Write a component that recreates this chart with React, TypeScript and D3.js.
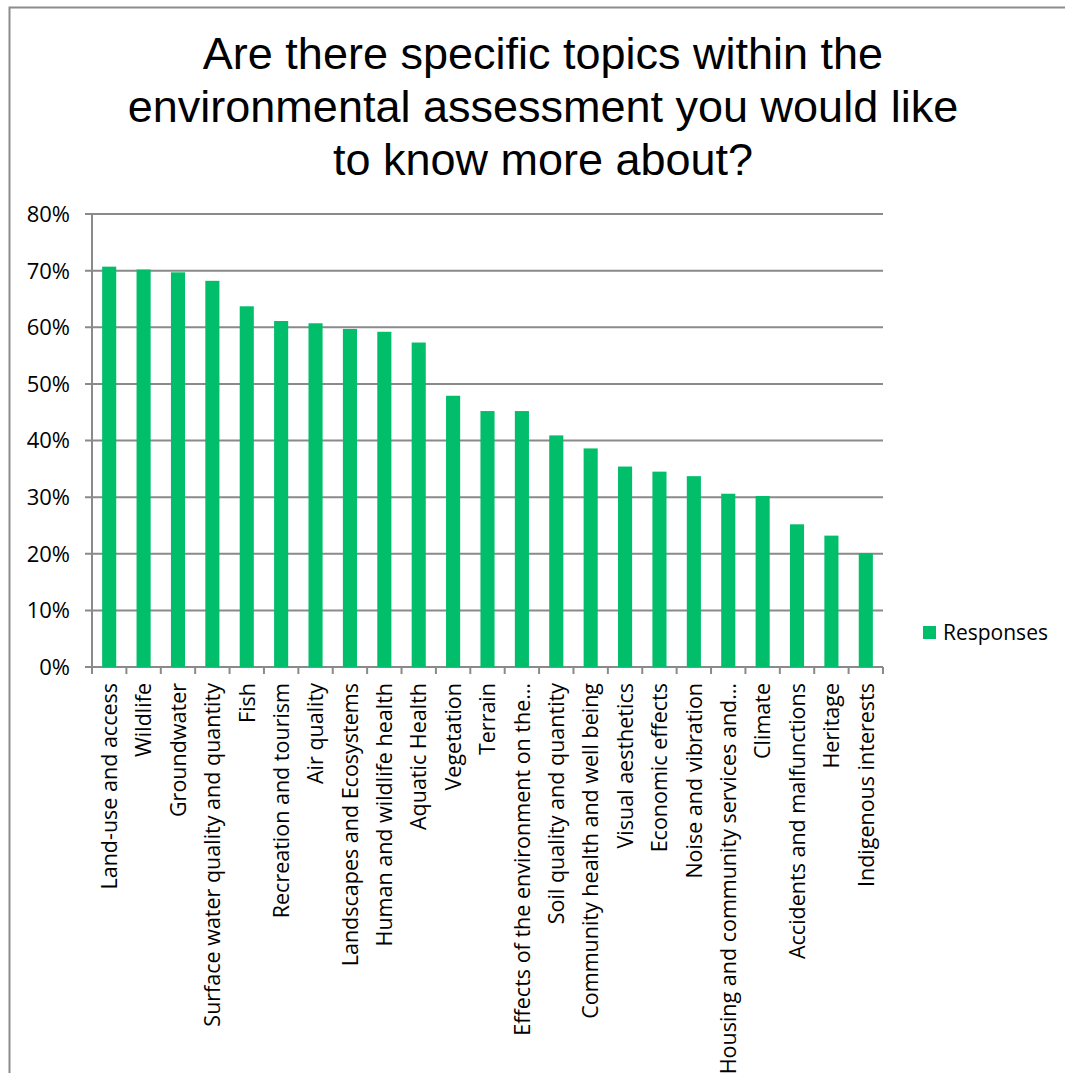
import React from "react";
import * as d3 from "d3";

const categories = [
  "Land-use and access",
  "Wildlife",
  "Groundwater",
  "Surface water quality and quantity",
  "Fish",
  "Recreation and tourism",
  "Air quality",
  "Landscapes and Ecosystems",
  "Human and wildlife health",
  "Aquatic Health",
  "Vegetation",
  "Terrain",
  "Effects of the environment on the…",
  "Soil quality and quantity",
  "Community health and well being",
  "Visual aesthetics",
  "Economic effects",
  "Noise and vibration",
  "Housing and community services and…",
  "Climate",
  "Accidents and malfunctions",
  "Heritage",
  "Indigenous interests",
];

const responses = [
  0.707, 0.702, 0.697, 0.682, 0.637, 0.611, 0.607, 0.597, 0.592, 0.573,
  0.479, 0.452, 0.452, 0.409, 0.386, 0.354, 0.345, 0.337, 0.306, 0.302,
  0.252, 0.232, 0.201,
];

const yTicks = [0, 0.1, 0.2, 0.3, 0.4, 0.5, 0.6, 0.7, 0.8];

const titleLines = [
  "Are there specific topics within the",
  "environmental assessment you would like",
  "to know more about?",
];

const seriesName = "Responses";

const W = 1065;
const H = 1073;
const left = 92;
const right = 883;
const top = 214;
const bottom = 667;

const GREEN = "#00BE6A";
const GRID = "#8a8a8a";
const LABEL_FONT = "'Open Sans', 'Noto Sans', sans-serif";

export default function App() {
  const x = d3
    .scaleBand<string>()
    .domain(categories)
    .range([left, right])
    .paddingInner(0.59)
    .paddingOuter(0.295);
  const y = d3.scaleLinear().domain([0, 0.8]).range([bottom, top]);
  const step = x.step();
  const fmt = d3.format(".0%");

  return (
    <div style={{ position: "absolute", left: 0, top: 0 }}>
      <svg width={W} height={H} style={{ display: "block", background: "#fff" }}>
        <rect x={9.5} y={7.5} width={W + 20} height={H + 20} fill="#fff" stroke="#8c8c8c" strokeWidth={2} />
        {titleLines.map((t, i) => (
          <text
            key={i}
            x={543}
            y={69 + i * 53}
            textAnchor="middle"
            fontFamily="'Liberation Sans', Arial, sans-serif"
            fontSize={45}
            fill="#000"
          >
            {t}
          </text>
        ))}
        {yTicks.map((t) => (
          <g key={t}>
            <line x1={left - 7} x2={right} y1={y(t)} y2={y(t)} stroke={GRID} strokeWidth={2} />
            <text
              x={70}
              y={y(t)}
              dy="0.36em"
              textAnchor="end"
              fontFamily={LABEL_FONT}
              fontSize={22}
              fill="#000"
            >
              {fmt(t)}
            </text>
          </g>
        ))}
        <line x1={left} x2={left} y1={top} y2={bottom} stroke={GRID} strokeWidth={2} />
        {categories.map((c, i) => (
          <rect
            key={c}
            x={x(c)}
            width={x.bandwidth()}
            y={y(responses[i])}
            height={y(0) - y(responses[i])}
            fill={GREEN}
          />
        ))}
        {d3.range(categories.length + 1).map((i) => (
          <line
            key={i}
            x1={left + i * step}
            x2={left + i * step}
            y1={bottom}
            y2={bottom + 7}
            stroke={GRID}
            strokeWidth={2}
          />
        ))}
        {categories.map((c) => {
          const cx = (x(c) as number) + x.bandwidth() / 2;
          return (
            <text
              key={c}
              transform={`translate(${cx},${683}) rotate(-90)`}
              textAnchor="end"
              dy="0.36em"
              fontFamily={LABEL_FONT}
              fontSize={21.5}
              fill="#000"
            >
              {c}
            </text>
          );
        })}
        <rect x={923} y={626} width={13} height={13} fill={GREEN} />
        <text x={943} y={640} fontFamily={LABEL_FONT} fontSize={21} fill="#000">
          {seriesName}
        </text>
      </svg>
    </div>
  );
}
